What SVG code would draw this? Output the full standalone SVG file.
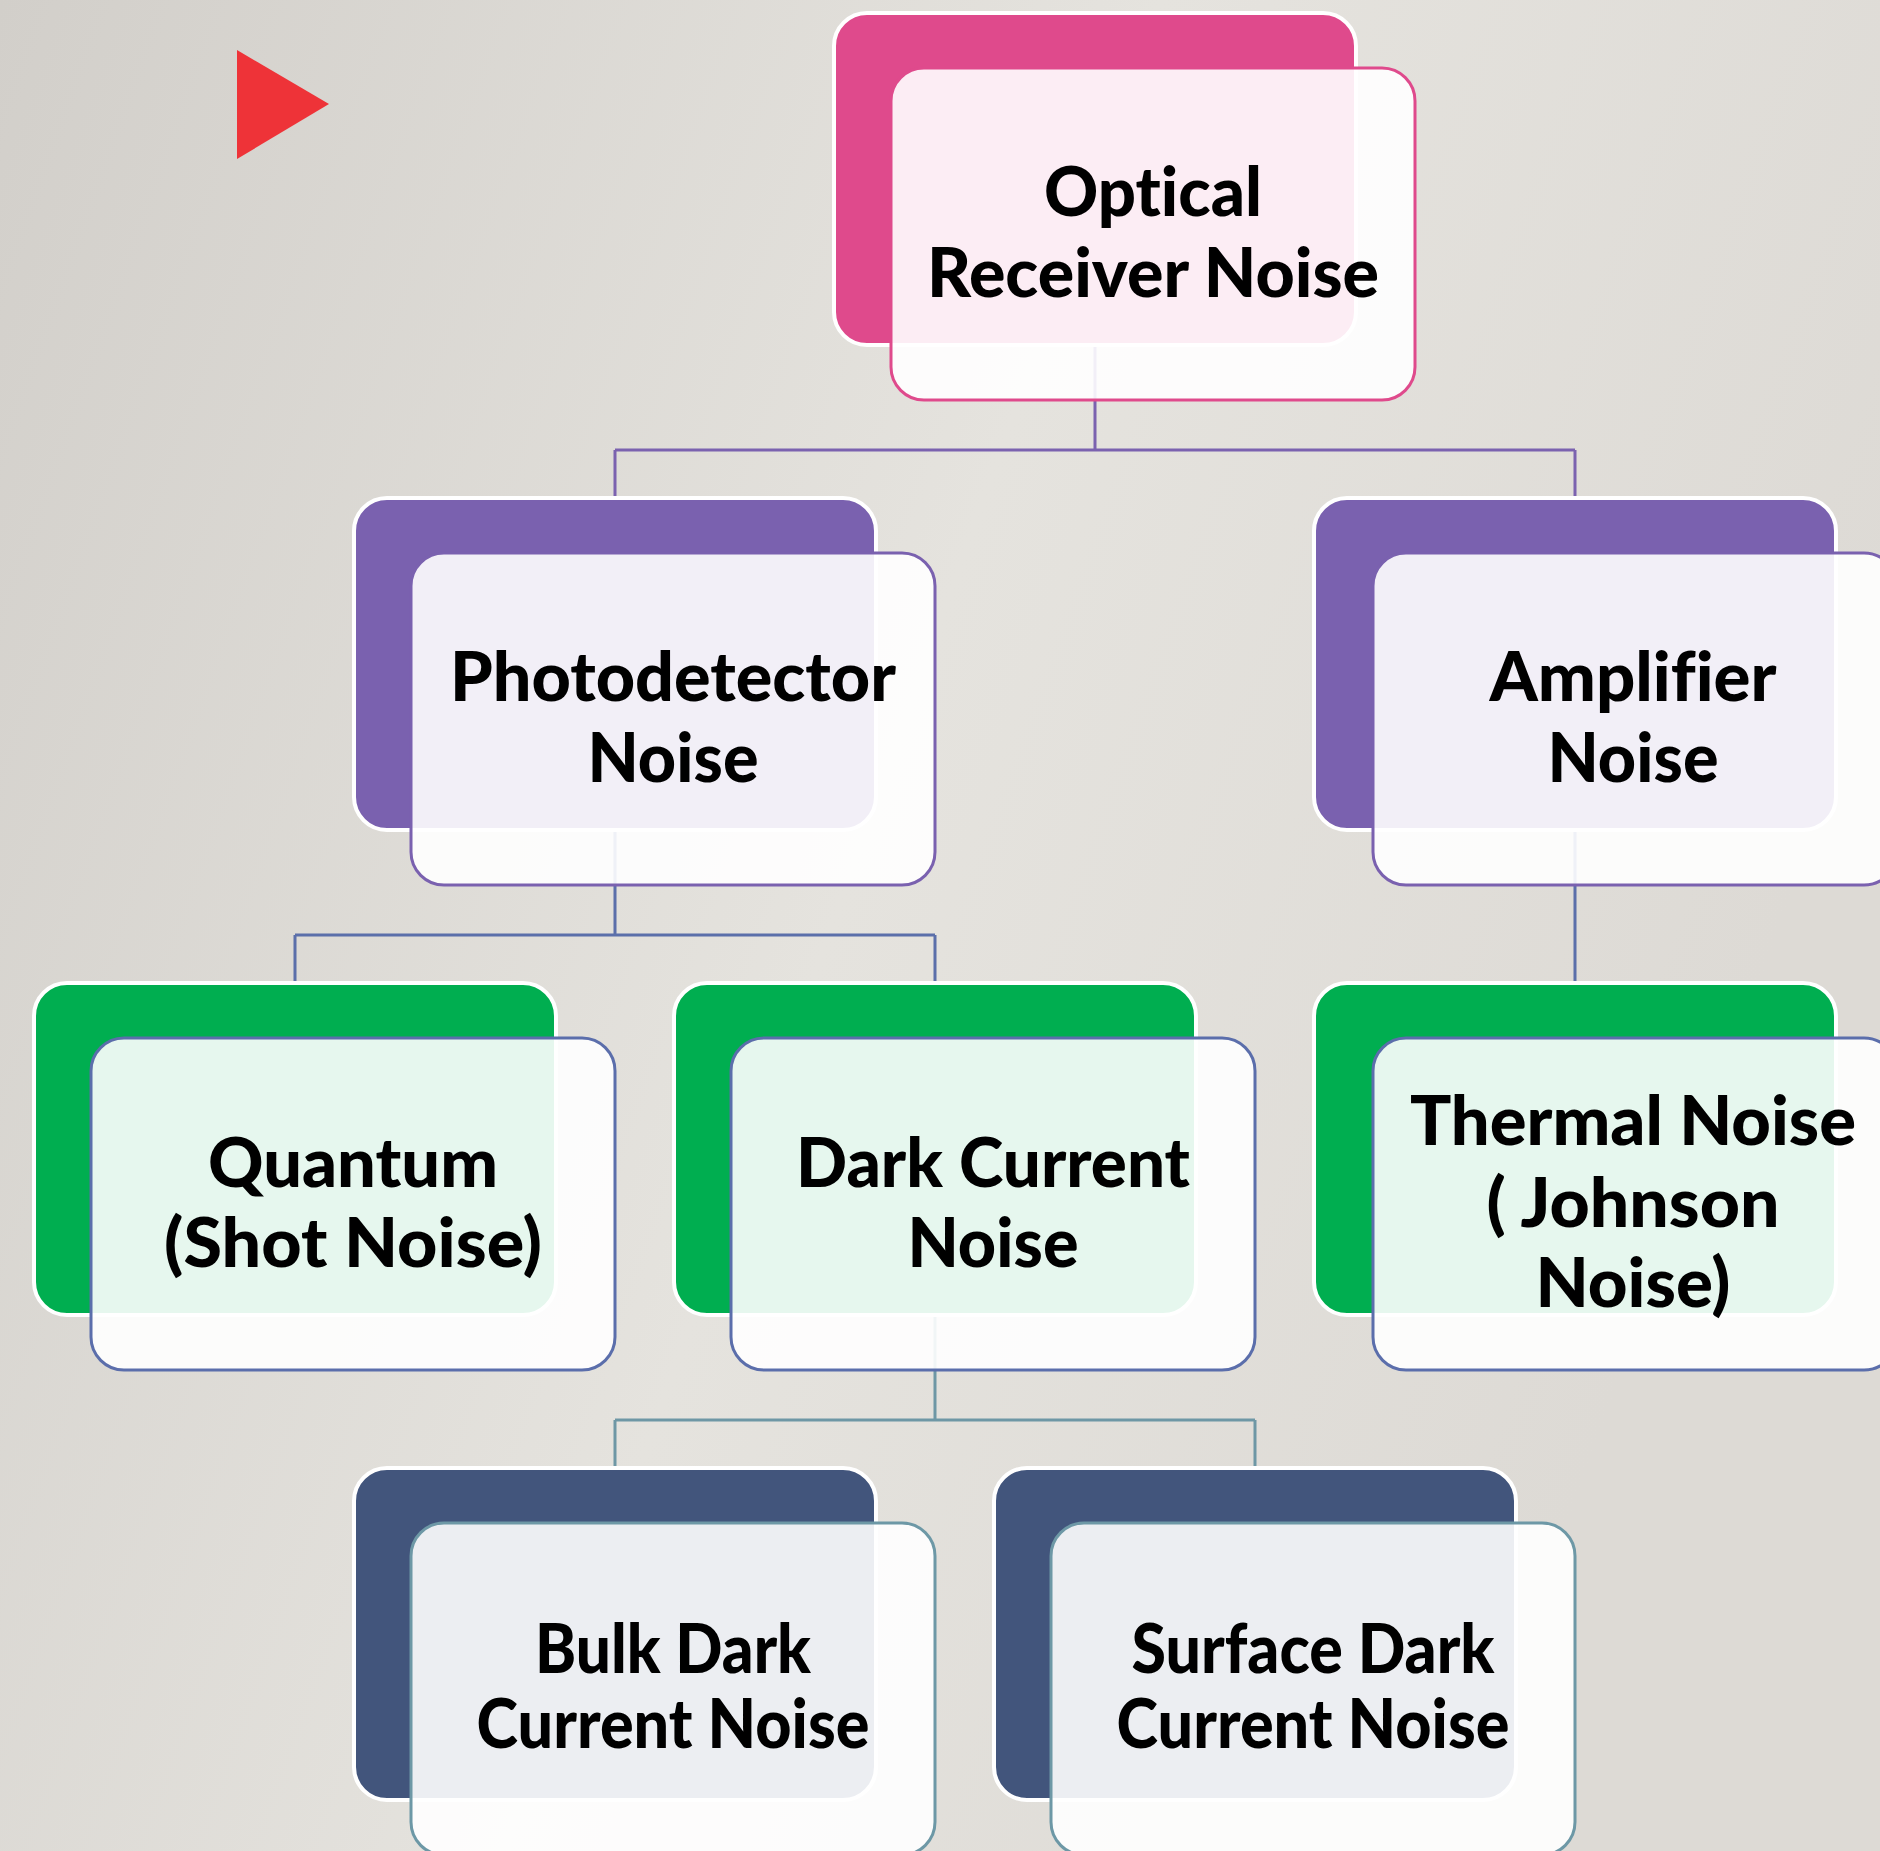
<svg xmlns="http://www.w3.org/2000/svg" width="1880" height="1851" viewBox="0 0 1880 1851">
<defs>
<linearGradient id="bg" x1="0" y1="0" x2="1" y2="0.35">
<stop offset="0" stop-color="#D2CFCA"/>
<stop offset="0.55" stop-color="#E5E3DE"/>
<stop offset="1" stop-color="#DDDAD5"/>
</linearGradient>
<style>
.back{stroke:#FFFFFF;stroke-width:4}
.front{fill:#FFFFFF;fill-opacity:0.9;stroke-width:3}
.pink{fill:#DF4A8C}
.purple{fill:#7A61AF}
.green{fill:#00AE50}
.navy{fill:#42557C}
.s-pink{stroke:#DF4A8C}
.s-purple{stroke:#7A61AF}
.s-blue{stroke:#5B6EAB}
.s-teal{stroke:#6D98A6}
.lbl{font-family:Lato,"Open Sans","Liberation Sans",sans-serif;font-weight:900;font-size:68px;fill:#000;text-anchor:middle;font-variant-ligatures:none}
.c1{stroke:#7B62AF;stroke-width:3;fill:none}
.c2{stroke:#5B6FAA;stroke-width:3;fill:none}
.c3{stroke:#6E97A5;stroke-width:3;fill:none}
</style>
</defs>
<rect x="0" y="0" width="1880" height="1851" fill="url(#bg)"/>
<polygon points="237,50 329,104 237,159" fill="#EE3338"/>
<g id="connectors">
<path class="c1" d="M1095,345 V450 M615,450 H1575 M615,450 V498 M1575,450 V498"/>
<path class="c2" d="M615,830 V935 M295,935 H935 M295,935 V983 M935,935 V983 M1575,830 V983"/>
<path class="c3" d="M935,1315 V1420 M615,1420 H1255 M615,1420 V1468 M1255,1420 V1468"/>
</g>
<g id="n-optical">
<rect class="back pink" x="834" y="13" width="522" height="332" rx="33"/>
<rect class="front s-pink" x="891" y="68" width="524" height="332" rx="33"/>
<text class="lbl" x="1153" y="216" textLength="218" lengthAdjust="spacingAndGlyphs">Optical</text>
<text class="lbl" x="1153" y="297" textLength="452" lengthAdjust="spacingAndGlyphs">Receiver Noise</text>
</g>
<g id="n-photodetector">
<rect class="back purple" x="354" y="498" width="522" height="332" rx="33"/>
<rect class="front s-purple" x="411" y="553" width="524" height="332" rx="33"/>
<text class="lbl" x="673" y="701" textLength="446" lengthAdjust="spacingAndGlyphs">Photodetector</text>
<text class="lbl" x="673" y="782" textLength="171" lengthAdjust="spacingAndGlyphs">Noise</text>
</g>
<g id="n-amplifier">
<rect class="back purple" x="1314" y="498" width="522" height="332" rx="33"/>
<rect class="front s-purple" x="1373" y="553" width="524" height="332" rx="33"/>
<text class="lbl" x="1633" y="701" textLength="287" lengthAdjust="spacingAndGlyphs">Amplifier</text>
<text class="lbl" x="1633" y="782" textLength="171" lengthAdjust="spacingAndGlyphs">Noise</text>
</g>
<g id="n-quantum">
<rect class="back green" x="34" y="983" width="522" height="332" rx="33"/>
<rect class="front s-blue" x="91" y="1038" width="524" height="332" rx="33"/>
<text class="lbl" x="353" y="1187" textLength="290" lengthAdjust="spacingAndGlyphs">Quantum</text>
<text class="lbl" x="353" y="1267" textLength="378" lengthAdjust="spacingAndGlyphs">(Shot Noise)</text>
</g>
<g id="n-darkcurrent">
<rect class="back green" x="674" y="983" width="522" height="332" rx="33"/>
<rect class="front s-blue" x="731" y="1038" width="524" height="332" rx="33"/>
<text class="lbl" x="993" y="1187" textLength="394" lengthAdjust="spacingAndGlyphs">Dark Current</text>
<text class="lbl" x="993" y="1267" textLength="171" lengthAdjust="spacingAndGlyphs">Noise</text>
</g>
<g id="n-thermal">
<rect class="back green" x="1314" y="983" width="522" height="332" rx="33"/>
<rect class="front s-blue" x="1373" y="1038" width="524" height="332" rx="33"/>
<text class="lbl" x="1633" y="1145" textLength="446" lengthAdjust="spacingAndGlyphs">Thermal Noise</text>
<text class="lbl" x="1633" y="1227" textLength="293" lengthAdjust="spacingAndGlyphs">( Johnson</text>
<text class="lbl" x="1633" y="1307" textLength="195" lengthAdjust="spacingAndGlyphs">Noise)</text>
</g>
<g id="n-bulk">
<rect class="back navy" x="354" y="1468" width="522" height="332" rx="33"/>
<rect class="front s-teal" x="411" y="1523" width="524" height="332" rx="33"/>
<text class="lbl" x="673" y="1673" textLength="276" lengthAdjust="spacingAndGlyphs">Bulk Dark</text>
<text class="lbl" x="673" y="1748" textLength="393" lengthAdjust="spacingAndGlyphs">Current Noise</text>
</g>
<g id="n-surface">
<rect class="back navy" x="994" y="1468" width="522" height="332" rx="33"/>
<rect class="front s-teal" x="1051" y="1523" width="524" height="332" rx="33"/>
<text class="lbl" x="1313" y="1673" textLength="363" lengthAdjust="spacingAndGlyphs">Surface Dark</text>
<text class="lbl" x="1313" y="1748" textLength="393" lengthAdjust="spacingAndGlyphs">Current Noise</text>
</g>
</svg>
